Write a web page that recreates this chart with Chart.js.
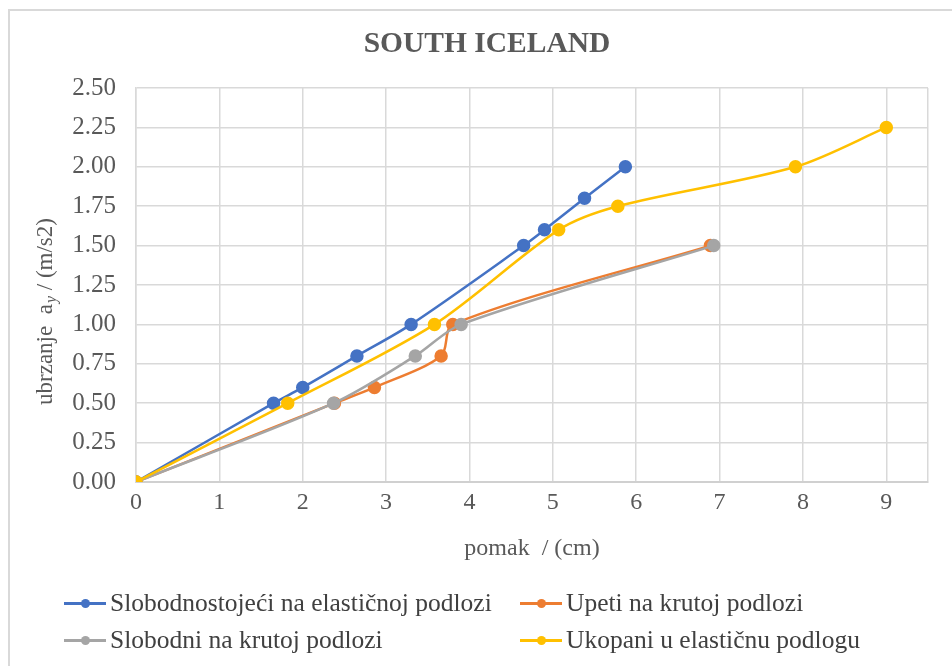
<!DOCTYPE html>
<html>
<head>
<meta charset="utf-8">
<script src="https://cdn.jsdelivr.net/npm/chart.js@4.4.1/dist/chart.umd.min.js"></script>
<style>
  body { margin: 0; background: #fff; }
  #wrap { position: relative; width: 952px; height: 666px; overflow: hidden; }
  #frame { position: absolute; left: 8px; top: 9px; width: 1000px; height: 720px; border: 2px solid #d9d9d9; box-sizing: border-box; }
  canvas { position: absolute; left: 0; top: 0; }
  .legend { position: absolute; left: 0; top: 0; font-family: "Liberation Serif", "Times New Roman", serif; font-size: 25.5px; color: #404040; white-space: nowrap; }
  .legend .item { position: absolute; display: flex; align-items: center; height: 28px; }
  .legend .mark { position: relative; width: 42px; height: 10px; margin-right: 4px; }
  .legend .mark i { position: absolute; left: 0; right: 0; top: 4px; height: 3px; }
  .legend .mark b { position: absolute; left: 17px; top: 1px; width: 9px; height: 9px; border-radius: 50%; }
</style>
</head>
<body>
<div id="wrap">
  <div id="frame"></div>
  <canvas id="chart" width="952" height="666"></canvas>
  <div class="legend" id="legend"></div>
</div>
<script>
const seriesNames = ['Slobodnostojeći na elastičnoj podlozi', 'Upeti na krutoj podlozi', 'Slobodni na krutoj podlozi', 'Ukopani u elastičnu podlogu'];
const seriesColors = ['#4472C4', '#ED7D31', '#A5A5A5', '#FFC000'];
const xTicks = [0, 1, 2, 3, 4, 5, 6, 7, 8, 9];

// pomak (cm) / ubrzanje (m/s2)
const slobodnostojeciX = [0, 1.65, 2.0, 2.65, 3.3, 4.65, 4.9, 5.38, 5.87];
const slobodnostojeciY = [0, 0.5, 0.6, 0.8, 1.0, 1.5, 1.6, 1.8, 2.0];
const upetiX = [0, 2.38, 2.86, 3.66, 3.8, 6.89];
const upetiY = [0, 0.5, 0.6, 0.8, 1.0, 1.5];
const slobodniX = [0, 2.37, 3.35, 3.9, 6.93];
const slobodniY = [0, 0.5, 0.8, 1.0, 1.5];
const ukopaniX = [0, 1.82, 3.58, 5.07, 5.78, 7.91, 9.0];
const ukopaniY = [0, 0.5, 1.0, 1.6, 1.75, 2.0, 2.25];

const xs = [slobodnostojeciX, upetiX, slobodniX, ukopaniX];
const ys = [slobodnostojeciY, upetiY, slobodniY, ukopaniY];

const serif = '"Liberation Serif", "Times New Roman", serif';
const textColor = '#595959';

const datasets = seriesNames.map((name, i) => ({
  label: name,
  data: xs[i].map((x, j) => ({ x: x, y: ys[i][j] })),
  borderColor: seriesColors[i],
  backgroundColor: seriesColors[i],
  borderWidth: 2.5,
  pointRadius: 5.5,
  pointHoverRadius: 5.5,
  showLine: true,
  tension: 0.3,
  order: 4 - i
}));

// naslovi osi crtani rucno (indeks y na a)
const axisTitles = {
  id: 'axisTitles',
  afterDraw(chart) {
    const ctx = chart.ctx;
    ctx.save();
    ctx.fillStyle = textColor;
    // naslov
    ctx.font = 'bold 29.5px ' + serif;
    ctx.textAlign = 'center';
    ctx.textBaseline = 'middle';
    ctx.fillText('SOUTH ICELAND', 487, 44);
    // x os
    ctx.font = '24px ' + serif;
    ctx.fillText('pomak  / (cm)', 532, 549);
    // y os
    ctx.translate(46, 312);
    ctx.rotate(-Math.PI / 2);
    ctx.textAlign = 'left';
    const p1 = 'ubrzanje  a';
    const p2 = 'y';
    const p3 = ' / (m/s2)';
    ctx.font = '23px ' + serif;
    const w1 = ctx.measureText(p1).width;
    const w3 = ctx.measureText(p3).width;
    ctx.font = 'italic 16px ' + serif;
    const w2 = ctx.measureText(p2).width;
    const x0 = -(w1 + w2 + w3) / 2;
    ctx.font = '23px ' + serif;
    ctx.fillText(p1, x0, 0);
    ctx.font = 'italic 16px ' + serif;
    ctx.fillText(p2, x0 + w1 + 1, 6);
    ctx.font = '23px ' + serif;
    ctx.fillText(p3, x0 + w1 + w2 + 1, 0);
    ctx.restore();
  }
};

new Chart(document.getElementById('chart'), {
  type: 'scatter',
  data: { datasets: datasets },
  options: {
    responsive: false,
    animation: false,
    layout: { padding: { left: 0, right: 24, top: 88, bottom: 0 } },
    plugins: {
      legend: { display: false },
      title: { display: false },
      tooltip: { enabled: false }
    },
    scales: {
      x: {
        type: 'linear',
        min: 0,
        max: 9.5,
        afterFit(scale) { scale.height = 184; },
        // cijeli brojevi + desni rub (9.5) bez oznake
        afterBuildTicks(scale) {
          scale.ticks = xTicks.concat([9.5]).map(v => ({ value: v }));
        },
        ticks: {
          autoSkip: false,
          color: textColor,
          font: { family: serif, size: 24 },
          padding: 6,
          maxRotation: 0,
          callback: v => (xTicks.includes(v) ? v : '')
        },
        grid: { color: '#d9d9d9', lineWidth: 1.5, drawTicks: false },
        border: { color: '#d0d0d0', width: 2 }
      },
      y: {
        min: 0,
        max: 2.5,
        afterFit(scale) { scale.width = 136; },
        ticks: {
          stepSize: 0.25,
          autoSkip: false,
          color: textColor,
          font: { family: serif, size: 25 },
          padding: 20,
          callback: v => v.toFixed(2)
        },
        grid: { color: '#d9d9d9', lineWidth: 1.5, drawTicks: false },
        border: { color: '#d9d9d9', width: 1.5 }
      }
    }
  },
  plugins: [axisTitles]
});

// legenda u dva reda
const legendPos = [[64, 603], [520, 603], [64, 640], [520, 640]];
const legend = document.getElementById('legend');
seriesNames.forEach((name, i) => {
  const item = document.createElement('div');
  item.className = 'item';
  item.style.left = legendPos[i][0] + 'px';
  item.style.top = (legendPos[i][1] - 14) + 'px';
  item.innerHTML = '<span class="mark"><i style="background:' + seriesColors[i] + '"></i><b style="background:' + seriesColors[i] + '"></b></span><span>' + name + '</span>';
  legend.appendChild(item);
});
</script>
</body>
</html>
